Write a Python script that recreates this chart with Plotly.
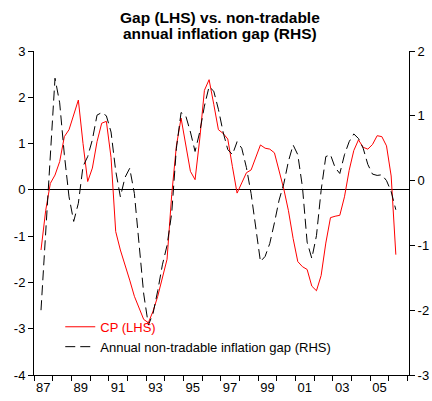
import plotly.graph_objects as go

# quarterly observations, 1987Q2 .. 2006Q2 (x = mid-quarter, in years)
quarters = [1987.375 + 0.25 * i for i in range(77)]

# output gap (LHS)
cp_gap = [
    -1.30, -0.45, 0.14, 0.32, 0.61, 1.15, 1.30, 1.62, 1.94, 1.00,
    0.18, 0.47, 1.04, 1.44, 1.48, 0.70, -0.90, -1.30, -1.60, -1.95,
    -2.30, -2.55, -2.80, -2.87, -2.62, -2.30, -1.90, -1.50, -0.10, 0.95,
    1.55, 0.95, 0.40, 0.22, 1.10, 2.15, 2.38, 1.85, 1.30, 1.22,
    1.10, 0.50, -0.07, 0.15, 0.37, 0.43, 0.70, 0.97, 0.90, 0.88,
    0.80, 0.40, 0.02, -0.45, -1.05, -1.55, -1.66, -1.72, -2.08, -2.18,
    -1.85, -1.15, -0.60, -0.57, -0.55, -0.15, 0.42, 0.85, 1.08, 0.92,
    0.88, 0.98, 1.17, 1.15, 0.95, 0.30, -1.40,
]

# annual non-tradable inflation gap (RHS)
nt_gap = [
    -2.00, -0.80, 0.40, 1.58, 1.20, 0.40, -0.25, -0.63, -0.35, 0.22,
    0.37, 0.63, 1.01, 1.05, 1.00, 0.75, 0.15, -0.25, 0.05, 0.19,
    -0.20, -0.95, -1.75, -2.23, -2.05, -1.70, -1.30, -1.00, -0.50, 0.50,
    1.05, 1.00, 0.75, 0.45, 0.75, 1.15, 1.45, 1.38, 1.10, 0.75,
    0.48, 0.40, 0.60, 0.50, 0.20, -0.20, -0.75, -1.25, -1.17, -0.97,
    -0.65, -0.30, -0.05, 0.30, 0.55, 0.40, -0.10, -0.95, -1.20, -0.85,
    -0.15, 0.37, 0.40, 0.20, 0.11, 0.40, 0.60, 0.72, 0.65, 0.50,
    0.25, 0.10, 0.08, 0.09, 0.00, -0.17, -0.45,
]

year_ticks = list(range(1987, 2008))
label_pos = [1987.5, 1989.5, 1991.5, 1993.5, 1995.5, 1997.5, 1999.5, 2001.5, 2003.5, 2005.5]
label_txt = ["87", "89", "91", "93", "95", "97", "99", "01", "03", "05"]
left_ticks = [3, 2, 1, 0, -1, -2, -3, -4]
right_ticks = [2, 1, 0, -1, -2, -3]
title_lines = ["Gap (LHS) vs. non-tradable", "annual inflation gap (RHS)"]

font = "Arial, Liberation Sans, sans-serif"

fig = go.Figure()

fig.add_trace(go.Scatter(
    x=quarters, y=cp_gap,
    name="<span style='color:#ff0000'>CP (LHS)</span>",
    mode="lines",
    line=dict(color="#ff0000", width=1),
))

fig.add_trace(go.Scatter(
    x=quarters, y=nt_gap,
    name="Annual non-tradable inflation gap (RHS)",
    mode="lines",
    line=dict(color="black", width=1, dash="10px,5px"),
    yaxis="y2",
))

# two-line title, set as separate lines to get the tight line spacing
for line_txt, ypos in zip(title_lines, [1.104, 1.054]):
    fig.add_annotation(
        text="<b>" + line_txt + "</b>",
        xref="paper", yref="paper", x=0.497, y=ypos,
        xanchor="center", yanchor="middle", showarrow=False,
        font=dict(size=15.5, family=font, color="black"),
    )

fig.update_layout(
    width=432, height=401,
    margin=dict(l=34, r=23, t=51, b=26, autoexpand=False),
    paper_bgcolor="white",
    plot_bgcolor="white",
    font=dict(family=font, size=13, color="black"),
    showlegend=True,
    legend=dict(
        x=0.07, y=0.195, xanchor="left", yanchor="top",
        bgcolor="rgba(0,0,0,0)",
        font=dict(size=13, family=font),
        tracegroupgap=0,
    ),
    xaxis=dict(
        range=[1987, 2007.08],
        tickmode="array", tickvals=label_pos, ticktext=label_txt,
        ticks="", showgrid=False, zeroline=False, automargin=False,
        showline=True, linecolor="black", linewidth=1,
        minor=dict(tickmode="array", tickvals=year_ticks, ticks="outside",
                   ticklen=5, tickcolor="black", showgrid=False),
    ),
    yaxis=dict(
        range=[-4, 3], automargin=False,
        tickmode="array", tickvals=left_ticks, ticktext=[str(t) for t in left_ticks],
        ticks="outside", ticklen=5, tickcolor="black",
        showgrid=False,
        zeroline=True, zerolinecolor="black", zerolinewidth=1,
        showline=True, linecolor="black", linewidth=1,
    ),
    yaxis2=dict(
        range=[-3, 2], overlaying="y", side="right", automargin=False,
        tickmode="array", tickvals=right_ticks, ticktext=[str(t) for t in right_ticks],
        ticks="outside", ticklen=5, tickcolor="black",
        showgrid=False, zeroline=False,
        showline=True, linecolor="black", linewidth=1,
    ),
)

# drop the browser's default 8px body margin so the figure fills the window
fig.write_html("out.html", config={"displayModeBar": False},
               post_script="document.body.style.margin='0';document.body.style.overflow='hidden';")
